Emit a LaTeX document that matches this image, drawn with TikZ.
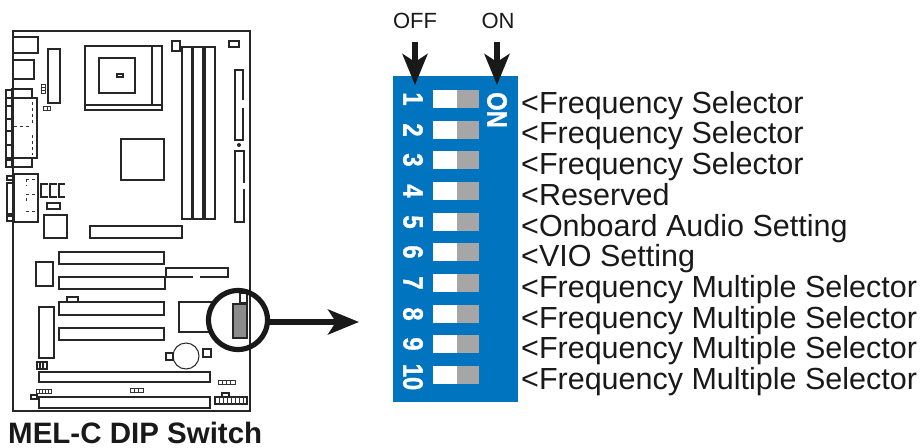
\documentclass[tikz,border=0pt]{standalone}
\usepackage{fontspec}
\setmainfont{Liberation Sans}
\newfontfamily\dipfont[FakeStretch=.85,FakeBold=1.2]{Liberation Sans Bold}
\usetikzlibrary{arrows.meta}

\begin{document}
\begin{tikzpicture}[x=1pt,y=-1pt,line join=miter,
    part/.style={draw=black!85,line width=1.3pt},
    thin part/.style={draw=black!80,line width=.8pt},
    pointer/.style={draw=black!90,line width=5.5pt,-{Stealth[length=31pt,width=25pt,inset=8pt]}},
    panel/.style={fill=panelblue,draw=none},
    slider/.style={fill=white,draw=none,minimum width=24pt,minimum height=18pt,inner sep=0pt,outer sep=0pt,anchor=north west},
    stop/.style={fill=black!35,draw=none,minimum width=22pt,minimum height=18pt,inner sep=0pt,outer sep=0pt,anchor=north west},
    digit/.style={rotate=-90,text=white,inner sep=0pt,font=\dipfont\fontsize{28}{28}\selectfont},
    setting/.style={anchor=base west,inner sep=0pt,text=black!90,font=\fontsize{30.5}{30.5}\selectfont},
    state/.style={inner sep=0pt,text=black!90,font=\fontsize{22}{22}\selectfont}]
\definecolor{panelblue}{RGB}{0,116,190}
\useasboundingbox (0,0) rectangle (920,447);

% board
\draw[part] (13,38) |- (250,31) -- (250,411) -- (13,411) -- cycle;
\draw[part] (13,37) rectangle (38,53);
\draw[part] (13,60) rectangle (34,79);
\draw[part] (48,49) rectangle (60,103);
\draw[thin part] (41,84) rectangle (45,93) (41,87) -- (45,87) (41,90) -- (45,90);
\draw[thin part] (43,106) rectangle (50,110) (47,106) -- (47,110);
% socket
\draw[part] (85,46) rectangle (162,110) (85,105) -- (162,105) (152,46) -- (152,105);
\draw[part] (99,58) rectangle (135,93);
\draw[part] (117,74) rectangle (123,77);
% rear connectors
\draw[part] (12,98) rectangle (37,158);
\draw[part] (12,98) -- (12,89) -- (32,89) -- (32,98) (12,158) -- (12,167) -- (32,167) -- (32,158);
\draw[part] (6,90) rectangle (12,98) (6,98) rectangle (12,106) (6,106) rectangle (12,119)
  (6,119) rectangle (12,131) (6,131) rectangle (12,145) (6,145) rectangle (12,158) (6,160) rectangle (12,167);
\draw[thin part,dashed] (32,102) -- (32,125) (14,126) -- (32,126) (32,135) -- (32,155);
\draw[part] (14,174) rectangle (38,222);
\draw[part] (7,176) rectangle (13,180) (7,183) rectangle (13,214) (7,216) rectangle (13,221);
\draw[thin part,dashed] (26,179) -- (37,179) -- (37,188) (26,179) -- (26,186) (26,194) -- (37,194) (37,194) -- (37,202)
  (26,198) -- (26,204) (26,211) -- (37,211) -- (37,220);
\draw[part] (48,184) -| (41,197) -- (48,197) (57,184) -| (50,197) -- (57,197) (65,184) -| (59,197) -- (65,197);
\draw[part] (47,203) rectangle (60,209);
\draw[part] (44,215) rectangle (67,238);
% chips and slots
\draw[part] (121,139) rectangle (164,180);
\draw[part] (90,226) rectangle (182,238);
\draw[part] (172,41) rectangle (180,51);
\draw[part] (182,47) rectangle (192,219);
\draw[part] (193,47) rectangle (203,219);
\draw[part] (205,47) rectangle (215,219);
\draw[part] (229,41) rectangle (239,47);
\draw[part] (243,100) |- (235,70) |- (243,140) -- (243,108);
\draw[fill=black!85,draw=none] (239,145) circle (2pt);
\draw[part] (244,183) |- (235,151) |- (244,222) -- (244,189);
\draw[part] (59,252) rectangle (164,264);
\draw[part] (59,277) rectangle (165,289);
\draw[part] (59,302) rectangle (164,315);
\draw[part] (59,328) rectangle (164,340);
\draw[part] (67,297) rectangle (78,302);
\draw[part] (36,262) rectangle (53,286);
\draw[part] (39,307) rectangle (54,358);
\draw[part] (37,362) rectangle (47,369) (40,362) -- (40,369) (43,362) -- (43,369);
\draw[part] (39,372) rectangle (210,382);
\draw[part] (39,397) rectangle (210,408);
\draw[thin part] (36,389) rectangle (51,393) (39,389) -- (39,393) (42,389) -- (42,393) (45,389) -- (45,393) (48,389) -- (48,393);
\draw[part] (31,395) rectangle (37,399);
\draw[thin part] (130,388) rectangle (143,392) (134,388) -- (134,392) (138,388) -- (138,392);
\draw[part] (193,277) -| (166,268) -| (228,277) -- (200,277);
\draw[part] (212,302) -| (179,332) -- (212,332);
% battery
\draw[line width=1pt,draw=black!85] (186,356) circle (13pt);
\draw[part] (166,353) rectangle (173,360);
\draw[part] (203,349) rectangle (211,357);
\draw[thin part] (218,380) rectangle (235,384) (222,380) -- (222,384) (226,380) -- (226,384) (230,380) -- (230,384);
\draw[part] (215,397) rectangle (247,404) (222,393) rectangle (229,397);
\draw[thin part] (219,397) -- (219,404) (223,397) -- (223,404) (227,397) -- (227,404) (231,397) -- (231,404) (235,397) -- (235,404) (239,397) -- (239,404) (243,397) -- (243,404);
% dip switch on the board
\draw[part] (240,293) rectangle (247,303);
\draw[part,fill=black!45] (233,304) rectangle (247,338);
\draw[draw=black!90,line width=5.2pt] (238,320) circle (29.5pt);
\coordinate (lens) at (267,322);
\coordinate (tip) at (359,322);
\draw[pointer] (lens) -- (tip);
\node[anchor=base west,inner sep=0pt,text=black!90,font=\bfseries\fontsize{29.5}{29.5}\selectfont] (title) at (8,443.5) {MEL-C DIP Switch};

% panel
\fill[panel] (393,76) rectangle (518,402);
\node[state] (off) at (415,21) {OFF};
\node[state] (on) at (498,21) {ON};
\coordinate (offtip) at (415,85);
\coordinate (ontip) at (497,85);
\draw[pointer] (415,42) -- (offtip);
\draw[pointer] (497,42) -- (ontip);
\node[digit] (onmark) at (497,110) {ON};

\node[digit] (n1) at (413,99) {1};
\node[digit] (n2) at (413,130) {2};
\node[digit] (n3) at (413,160) {3};
\node[digit] (n4) at (413,191) {4};
\node[digit] (n5) at (413,222) {5};
\node[digit] (n6) at (413,252) {6};
\node[digit] (n7) at (413,283) {7};
\node[digit] (n8) at (413,314) {8};
\node[digit] (n9) at (413,344) {9};
\node[digit] (n10) at (413,377) {10};

\node[slider] (s1) at (433,90) {};
\node[slider] (s2) at (433,121) {};
\node[slider] (s3) at (433,151) {};
\node[slider] (s4) at (433,182) {};
\node[slider] (s5) at (433,213) {};
\node[slider] (s6) at (433,243) {};
\node[slider] (s7) at (433,274) {};
\node[slider] (s8) at (433,305) {};
\node[slider] (s9) at (433,335) {};
\node[slider] (s10) at (433,366) {};

\node[stop] (g1) at (s1.north east) {};
\node[stop] (g2) at (s2.north east) {};
\node[stop] (g3) at (s3.north east) {};
\node[stop] (g4) at (s4.north east) {};
\node[stop] (g5) at (s5.north east) {};
\node[stop] (g6) at (s6.north east) {};
\node[stop] (g7) at (s7.north east) {};
\node[stop] (g8) at (s8.north east) {};
\node[stop] (g9) at (s9.north east) {};
\node[stop] (g10) at (s10.north east) {};

\node[setting] (l1) at (521,113) {<Frequency Selector};
\node[setting] (l2) at (521,143) {<Frequency Selector};
\node[setting] (l3) at (521,174) {<Frequency Selector};
\node[setting] (l4) at (521,205) {<Reserved};
\node[setting] (l5) at (521,236) {<Onboard Audio Setting};
\node[setting] (l6) at (521,266) {<VIO Setting};
\node[setting] (l7) at (521,297) {<Frequency Multiple Selector};
\node[setting] (l8) at (521,328) {<Frequency Multiple Selector};
\node[setting] (l9) at (521,358) {<Frequency Multiple Selector};
\node[setting] (l10) at (521,389) {<Frequency Multiple Selector};
\end{tikzpicture}
\end{document}
